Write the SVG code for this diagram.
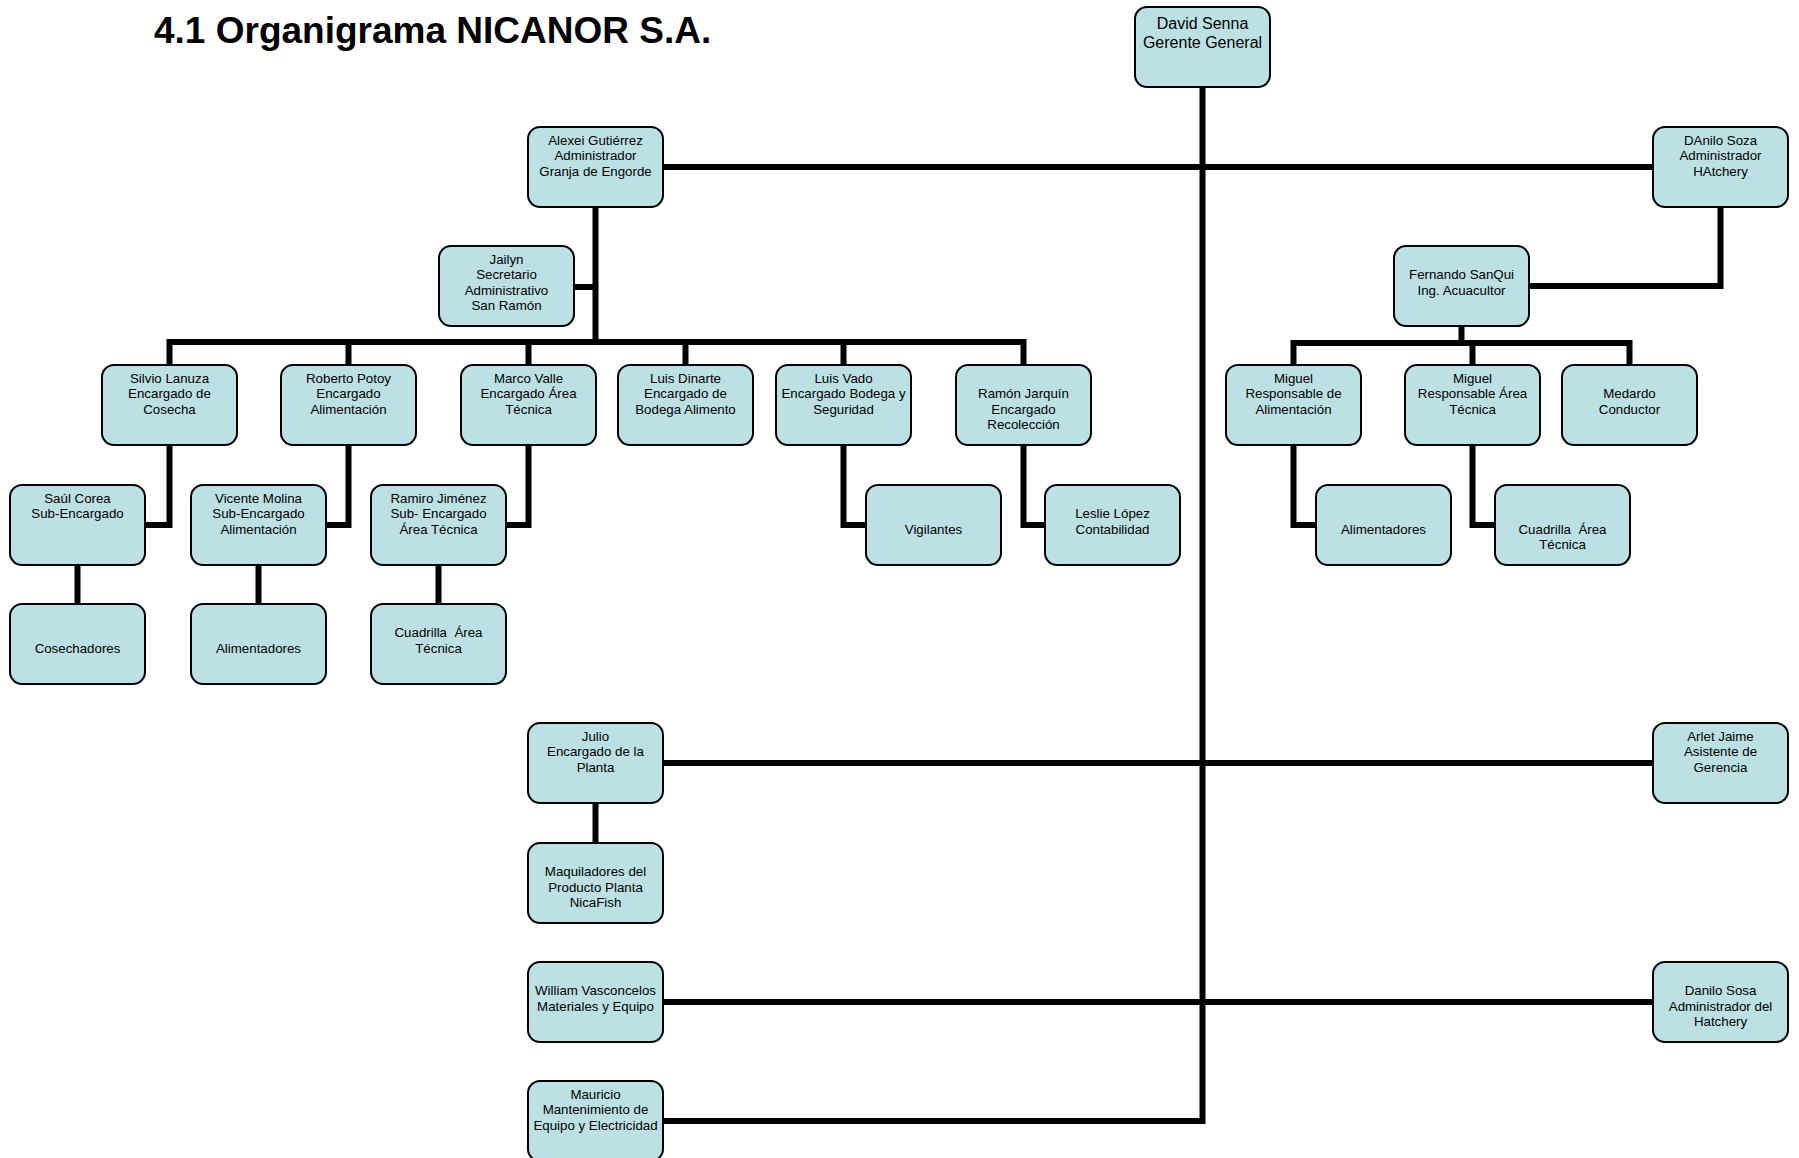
<svg xmlns="http://www.w3.org/2000/svg" width="1799" height="1158" viewBox="0 0 1799 1158">
<style>
.box{fill:#bce0e3;stroke:#000;stroke-width:2}
.t{font-family:"Liberation Sans",Arial,sans-serif;font-size:13.3px;text-anchor:middle;fill:#000}
.tb{font-family:"Liberation Sans",Arial,sans-serif;font-size:16px;text-anchor:middle;fill:#000}
.title{font-family:"Liberation Sans",Arial,sans-serif;font-size:37px;font-weight:bold;fill:#000}
.c{fill:none;stroke:#000;stroke-width:6;stroke-linejoin:miter;stroke-linecap:butt}
</style>
<rect width="1799" height="1158" fill="#fff"/>
<text class="title" x="154" y="43">4.1 Organigrama NICANOR S.A.</text>
<g id="connectors">
<path class="c" d="M1202.5 87 V1121 H663"/>
<path class="c" d="M663 167 H1653"/>
<path class="c" d="M663 763 H1653"/>
<path class="c" d="M663 1002 H1653"/>
<path class="c" d="M595.5 207 V342"/>
<path class="c" d="M574 287 H595.5"/>
<path class="c" d="M169.5 365 V342 H1023.5 V365"/>
<path class="c" d="M348.5 342 V365 M528.5 342 V365 M685.5 342 V365 M843.5 342 V365"/>
<path class="c" d="M169.5 445 V525 H145"/>
<path class="c" d="M348.5 445 V525 H325"/>
<path class="c" d="M528.5 445 V525 H505"/>
<path class="c" d="M843.5 445 V525 H866"/>
<path class="c" d="M1023.5 445 V525 H1045"/>
<path class="c" d="M77.5 565 V604 M258.5 565 V604 M438.5 565 V604"/>
<path class="c" d="M1720.5 207 V286 H1529"/>
<path class="c" d="M1461.5 325 V343"/>
<path class="c" d="M1293.5 365 V343 H1629.5 V365 M1472.5 343 V365"/>
<path class="c" d="M1293.5 445 V525 H1316"/>
<path class="c" d="M1472.5 445 V525 H1495"/>
<path class="c" d="M595.5 803 V843"/>
</g>
<g id="david"><rect class="box" x="1135" y="7" width="135" height="80" rx="12"/><text class="tb" x="1202.5" y="28.5">David Senna</text><text class="tb" x="1202.5" y="48">Gerente General</text></g>
<g id="alexei"><rect class="box" x="528" y="127" width="135" height="80" rx="12"/><text class="t" x="595.5" y="144.8">Alexei Gutiérrez</text><text class="t" x="595.5" y="160.3">Administrador</text><text class="t" x="595.5" y="175.8">Granja de Engorde</text></g>
<g id="danilo-soza"><rect class="box" x="1653" y="127" width="135" height="80" rx="12"/><text class="t" x="1720.5" y="144.8">DAnilo Soza</text><text class="t" x="1720.5" y="160.3">Administrador</text><text class="t" x="1720.5" y="175.8">HAtchery</text></g>
<g id="jailyn"><rect class="box" x="439" y="246" width="135" height="80" rx="12"/><text class="t" x="506.5" y="263.8">Jailyn</text><text class="t" x="506.5" y="279.3">Secretario</text><text class="t" x="506.5" y="294.8">Administrativo</text><text class="t" x="506.5" y="310.3">San Ramón</text></g>
<g id="fernando"><rect class="box" x="1394" y="246" width="135" height="80" rx="12"/><text class="t" x="1461.5" y="279.3">Fernando SanQui</text><text class="t" x="1461.5" y="294.8">Ing. Acuacultor</text></g>
<g id="silvio"><rect class="box" x="102" y="365" width="135" height="80" rx="12"/><text class="t" x="169.5" y="382.8">Silvio Lanuza</text><text class="t" x="169.5" y="398.3">Encargado de</text><text class="t" x="169.5" y="413.8">Cosecha</text></g>
<g id="roberto"><rect class="box" x="281" y="365" width="135" height="80" rx="12"/><text class="t" x="348.5" y="382.8">Roberto Potoy</text><text class="t" x="348.5" y="398.3">Encargado</text><text class="t" x="348.5" y="413.8">Alimentación</text></g>
<g id="marco"><rect class="box" x="461" y="365" width="135" height="80" rx="12"/><text class="t" x="528.5" y="382.8">Marco Valle</text><text class="t" x="528.5" y="398.3">Encargado Área</text><text class="t" x="528.5" y="413.8">Técnica</text></g>
<g id="luis-dinarte"><rect class="box" x="618" y="365" width="135" height="80" rx="12"/><text class="t" x="685.5" y="382.8">Luis Dinarte</text><text class="t" x="685.5" y="398.3">Encargado de</text><text class="t" x="685.5" y="413.8">Bodega Alimento</text></g>
<g id="luis-vado"><rect class="box" x="776" y="365" width="135" height="80" rx="12"/><text class="t" x="843.5" y="382.8">Luis Vado</text><text class="t" x="843.5" y="398.3">Encargado Bodega y</text><text class="t" x="843.5" y="413.8">Seguridad</text></g>
<g id="ramon"><rect class="box" x="956" y="365" width="135" height="80" rx="12"/><text class="t" x="1023.5" y="398.3">Ramón Jarquín</text><text class="t" x="1023.5" y="413.8">Encargado</text><text class="t" x="1023.5" y="429.3">Recolección</text></g>
<g id="miguel-alim"><rect class="box" x="1226" y="365" width="135" height="80" rx="12"/><text class="t" x="1293.5" y="382.8">Miguel</text><text class="t" x="1293.5" y="398.3">Responsable de</text><text class="t" x="1293.5" y="413.8">Alimentación</text></g>
<g id="miguel-tec"><rect class="box" x="1405" y="365" width="135" height="80" rx="12"/><text class="t" x="1472.5" y="382.8">Miguel</text><text class="t" x="1472.5" y="398.3">Responsable Área</text><text class="t" x="1472.5" y="413.8">Técnica</text></g>
<g id="medardo"><rect class="box" x="1562" y="365" width="135" height="80" rx="12"/><text class="t" x="1629.5" y="398.3">Medardo</text><text class="t" x="1629.5" y="413.8">Conductor</text></g>
<g id="saul"><rect class="box" x="10" y="485" width="135" height="80" rx="12"/><text class="t" x="77.5" y="502.8">Saúl Corea</text><text class="t" x="77.5" y="518.3">Sub-Encargado</text></g>
<g id="vicente"><rect class="box" x="191" y="485" width="135" height="80" rx="12"/><text class="t" x="258.5" y="502.8">Vicente Molina</text><text class="t" x="258.5" y="518.3">Sub-Encargado</text><text class="t" x="258.5" y="533.8">Alimentación</text></g>
<g id="ramiro"><rect class="box" x="371" y="485" width="135" height="80" rx="12"/><text class="t" x="438.5" y="502.8">Ramiro Jiménez</text><text class="t" x="438.5" y="518.3">Sub- Encargado</text><text class="t" x="438.5" y="533.8">Área Técnica</text></g>
<g id="vigilantes"><rect class="box" x="866" y="485" width="135" height="80" rx="12"/><text class="t" x="933.5" y="533.8">Vigilantes</text></g>
<g id="leslie"><rect class="box" x="1045" y="485" width="135" height="80" rx="12"/><text class="t" x="1112.5" y="518.3">Leslie López</text><text class="t" x="1112.5" y="533.8">Contabilidad</text></g>
<g id="alimentadores-r"><rect class="box" x="1316" y="485" width="135" height="80" rx="12"/><text class="t" x="1383.5" y="533.8">Alimentadores</text></g>
<g id="cuadrilla-r"><rect class="box" x="1495" y="485" width="135" height="80" rx="12"/><text class="t" x="1562.5" y="533.8" xml:space="preserve">Cuadrilla  Área</text><text class="t" x="1562.5" y="549.3">Técnica</text></g>
<g id="cosechadores"><rect class="box" x="10" y="604" width="135" height="80" rx="12"/><text class="t" x="77.5" y="652.8">Cosechadores</text></g>
<g id="alimentadores-l"><rect class="box" x="191" y="604" width="135" height="80" rx="12"/><text class="t" x="258.5" y="652.8">Alimentadores</text></g>
<g id="cuadrilla-l"><rect class="box" x="371" y="604" width="135" height="80" rx="12"/><text class="t" x="438.5" y="637.3" xml:space="preserve">Cuadrilla  Área</text><text class="t" x="438.5" y="652.8">Técnica</text></g>
<g id="julio"><rect class="box" x="528" y="723" width="135" height="80" rx="12"/><text class="t" x="595.5" y="740.8">Julio</text><text class="t" x="595.5" y="756.3">Encargado de la</text><text class="t" x="595.5" y="771.8">Planta</text></g>
<g id="arlet"><rect class="box" x="1653" y="723" width="135" height="80" rx="12"/><text class="t" x="1720.5" y="740.8">Arlet Jaime</text><text class="t" x="1720.5" y="756.3">Asistente de</text><text class="t" x="1720.5" y="771.8">Gerencia</text></g>
<g id="maquiladores"><rect class="box" x="528" y="843" width="135" height="80" rx="12"/><text class="t" x="595.5" y="876.3">Maquiladores del</text><text class="t" x="595.5" y="891.8">Producto Planta</text><text class="t" x="595.5" y="907.3">NicaFish</text></g>
<g id="william"><rect class="box" x="528" y="962" width="135" height="80" rx="12"/><text class="t" x="595.5" y="995.3">William Vasconcelos</text><text class="t" x="595.5" y="1010.8">Materiales y Equipo</text></g>
<g id="danilo-sosa"><rect class="box" x="1653" y="962" width="135" height="80" rx="12"/><text class="t" x="1720.5" y="995.3">Danilo Sosa</text><text class="t" x="1720.5" y="1010.8">Administrador del</text><text class="t" x="1720.5" y="1026.3">Hatchery</text></g>
<g id="mauricio"><rect class="box" x="528" y="1081" width="135" height="80" rx="12"/><text class="t" x="595.5" y="1098.8">Mauricio</text><text class="t" x="595.5" y="1114.3">Mantenimiento de</text><text class="t" x="595.5" y="1129.8">Equipo y Electricidad</text></g>
</svg>
